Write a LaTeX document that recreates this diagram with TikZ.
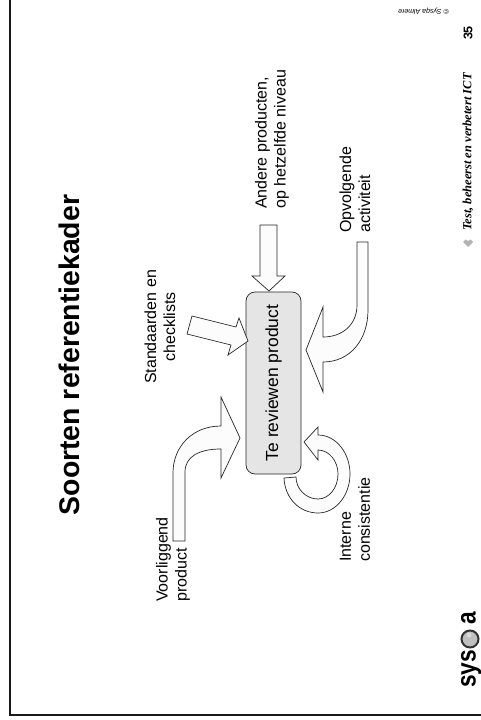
\documentclass[tikz,border=0pt]{standalone}
\usepackage{fontspec}
\setmainfont{Liberation Sans}
\newfontfamily\footfont{Liberation Serif}
\tikzset{blockarrow/.style={draw=black!85,fill=black!1,line width=0.7pt,line join=miter},
         lbl/.style={rotate=90,font=\fontsize{16}{19}\selectfont,inner sep=0pt},
         lblleft/.style={lbl,align=left,anchor=west},
         lblcenter/.style={lbl,align=center},
         logotxt/.style={rotate=90,font=\fontsize{27}{30}\selectfont\bfseries,inner sep=0pt}}

\begin{document}
\begin{tikzpicture}[x=1pt,y=-1pt]
       \useasboundingbox (0,0) rectangle (481,720);
       % frame
       \draw[black!90,line width=2pt] (10,0) -- (10,715) -- (481,715);
       % title
       \node[rotate=90,font=\fontsize{28.4}{32}\selectfont\bfseries,inner sep=0pt] (title) at (69,355) {Soorten referentiekader};
       % central box
       \node[draw=black!85,fill=black!10,rounded corners=9pt,line width=0.7pt,minimum width=55pt,minimum height=182pt,inner sep=0pt] (product) at (273.5,383) {};
       \node[lbl,font=\fontsize{17.5}{20}\selectfont] (productlabel) at (273.5,383) {Te reviewen product};
       % arrows
       \draw[blockarrow] (260,225) -- (277,225) -- (277,276) -- (285,276) -- (269,291) -- (252,276) -- (260,276) -- cycle;
       \draw[blockarrow] (192,316) -- (236,327) -- (239,318) -- (248,341) -- (228,355) -- (231,345) -- (187,334) -- cycle;
       \draw[blockarrow] (357,242) -- (368,242) -- (368,310) .. controls (368,340) and (350,362) .. (323,362)
                         -- (323,392) -- (306,350) -- (323,307) -- (323,337)
                         .. controls (342,337) and (357,325) .. (357,305) -- cycle;
       \draw[blockarrow] (173,541) -- (173,473) .. controls (173,446) and (193,426) .. (221,426)
                         -- (221,397) -- (240,438) -- (221,478) -- (221,449)
                         .. controls (200,449) and (185,456) .. (185,472) -- (185,541) -- cycle;
       \draw[blockarrow] (284,478) .. controls (285,499) and (300,513) .. (318,513)
                         .. controls (336,513) and (350,495) .. (350,474)
                         .. controls (350,453) and (336,435) .. (318,435)
                         -- (318,427) -- (304,442) -- (318,460) -- (318,450)
                         .. controls (329,450) and (338,461) .. (338,474)
                         .. controls (338,488) and (329,499) .. (318,499)
                         .. controls (306,499) and (296,489) .. (296,477) -- cycle;
       % labels
       \node[lblleft] (andere) at (272,209) {Andere producten,\\op hetzelfde niveau};
       \node[lblcenter] (standaarden) at (160,327) {Standaarden en\\checklists};
       \node[lblleft] (opvolgende) at (355,233) {Opvolgende\\activiteit};
       \node[lblleft] (voorliggend) at (173,602) {Voorliggend\\product};
       \node[lblleft] (interne) at (355,562) {Interne\\consistentie};
       % footer
       \node[rotate=180,font=\fontsize{7}{8}\selectfont\itshape,inner sep=0pt,anchor=west] (copy) at (449,11) {© Sysqa Almere};
       \node[rotate=90,font=\fontsize{12.5}{14}\selectfont\bfseries,inner sep=0pt] (page) at (468,33) {35};
       \node[rotate=90,font=\fontsize{12.5}{14}\footfont\bfseries\itshape,inner sep=0pt,anchor=west] (motto) at (468,231) {Test, beheerst en verbetert ICT};
       \fill[black!30] (468,247) -- (473,242) -- (470.5,239.5) -- (468,241) -- (465.5,239.5) -- (463,242) -- cycle;
       % logo
       \node[logotxt,anchor=base west] (logosys) at (475.5,688) {\scalebox{0.84}[1]{sys}};
       \node[logotxt,anchor=base east] (logoa) at (475.5,612) {\scalebox{0.84}[1]{a}};
       \draw[black!80,line width=2pt,fill=black!25] (470,639) circle (8.5);
       \fill[white!85!black] (469,635) circle (2.5);
\end{tikzpicture}
\end{document}
